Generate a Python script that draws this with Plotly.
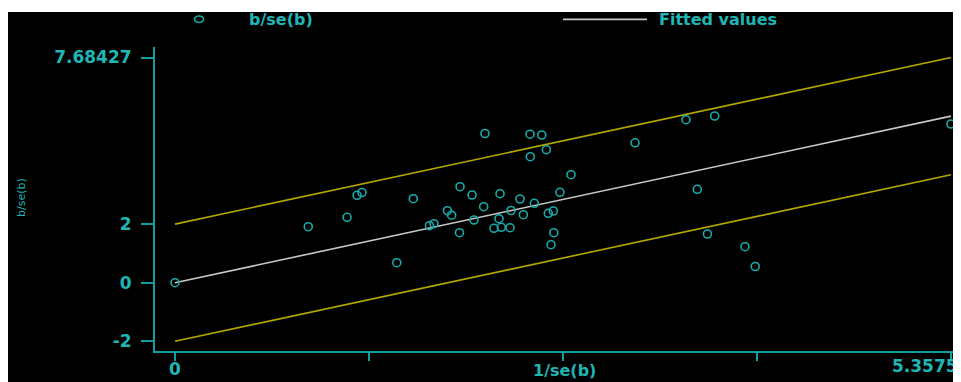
import plotly.graph_objects as go

# ---- data ----
inv_se = [0.0, 0.920, 1.188, 1.257, 1.291, 1.645, 1.531, 1.757, 1.788, 1.881,
          1.910, 1.964, 1.968, 2.051, 2.064, 2.131, 2.140, 2.202, 2.237, 2.244,
          2.253, 2.313, 2.320, 2.382, 2.405, 2.451, 2.453, 2.481, 2.532, 2.564,
          2.577, 2.612, 2.615, 2.596, 2.658, 2.734, 3.176, 3.528, 3.726, 3.606,
          3.676, 3.935, 4.006, 5.3575]
b_se = [0.0, 1.911, 2.232, 2.983, 3.078, 2.867, 0.683, 1.945, 2.014, 2.457,
        2.304, 1.706, 3.276, 2.993, 2.140, 2.594, 5.092, 1.857, 2.184, 3.038,
        1.891, 1.877, 2.464, 2.857, 2.321, 5.068, 4.300, 2.710, 5.041, 4.539,
        2.369, 2.447, 1.706, 1.297, 3.085, 3.686, 4.775, 5.563, 5.689, 3.188,
        1.662, 1.229, 0.553, 5.416]

line_x = [0.0, 5.3575]
fitted_y = [0.0, 5.68427]
upper_y = [2.0, 7.68427]
lower_y = [-2.0, 3.68427]

ytick_vals = [-2, 0, 2, 7.68427]
ytick_text = ["-2", "0", "2", "7.68427"]
xtick_vals = [0, 1.339375, 2.67875, 4.018125, 5.3575]
xtick_text = ["0", "", "", "", ""]
x_end_label = "5.3575"

legend_labels = ["b/se(b)", "Fitted values"]
x_title = "1/se(b)"
y_title = "b/se(b)"

# ---- styling ----
OFF = 8                      # page body margin
W, H = 961 - OFF, 382 - OFF
ML, MR, MT, MB = 147, 0, 39, 31
TEAL_TXT = "#1fb6b6"
TEAL_AX = "#139e9e"
TEAL_MK = "#17abab"
YELLOW = "#b3a800"
WHITE_L = "#c8c8c8"
FONT = "DejaVu Sans"

PW = W - ML - MR
PH = H - MT - MB


def fx(p):  # page pixel x -> paper
    return (p - OFF - ML) / PW


def fy(p):  # page pixel y -> paper
    return (H - MB - (p - OFF)) / PH


fig = go.Figure()

fig.add_trace(go.Scatter(x=line_x, y=upper_y, mode="lines",
                         line=dict(color=YELLOW, width=1.6), showlegend=False,
                         hoverinfo="skip"))
fig.add_trace(go.Scatter(x=line_x, y=lower_y, mode="lines",
                         line=dict(color=YELLOW, width=1.6), showlegend=False,
                         hoverinfo="skip"))
fig.add_trace(go.Scatter(x=line_x, y=fitted_y, mode="lines", name=legend_labels[1],
                         line=dict(color=WHITE_L, width=1.6), showlegend=False))
fig.add_trace(go.Scatter(x=inv_se, y=b_se, mode="markers", name=legend_labels[0],
                         marker=dict(symbol="circle-open", size=8, color=TEAL_MK,
                                     line=dict(width=1.6, color=TEAL_MK)),
                         showlegend=False))

shapes = [
    # black chart background
    dict(type="rect", xref="paper", yref="paper", layer="below",
         x0=fx(8), x1=fx(961), y0=fy(382), y1=fy(12),
         fillcolor="black", line=dict(width=0)),
    # legend symbols
    dict(type="circle", xref="paper", yref="paper",
         x0=fx(194.5), x1=fx(203.5), y0=fy(22.5), y1=fy(16),
         line=dict(color=TEAL_MK, width=1.6)),
    dict(type="line", xref="paper", yref="paper",
         x0=fx(563), x1=fx(647), y0=fy(19.3), y1=fy(19.3),
         line=dict(color=WHITE_L, width=1.8)),
]

afont = dict(family=FONT, size=16, color=TEAL_TXT, weight="bold")
tfont = dict(family=FONT, size=17, color=TEAL_TXT, weight="bold")
annotations = [
    dict(text=legend_labels[0], xref="paper", yref="paper", x=fx(247), y=fy(19),
         xanchor="left", yanchor="middle", showarrow=False, font=afont),
    dict(text=legend_labels[1], xref="paper", yref="paper", x=fx(657), y=fy(19),
         xanchor="left", yanchor="middle", showarrow=False, font=afont),
    dict(text=x_title, xref="paper", yref="paper", x=fx(564), y=fy(382),
         xanchor="center", yanchor="bottom", showarrow=False, font=afont),
    dict(text=y_title, xref="paper", yref="paper", x=fx(21), y=fy(198),
         xanchor="center", yanchor="middle", showarrow=False, textangle=-90,
         font=dict(family=FONT, size=11, color=TEAL_TXT)),
    dict(text=x_end_label, xref="paper", yref="paper", x=fx(960), y=fy(354),
         xanchor="right", yanchor="top", showarrow=False, font=tfont),
]

fig.update_layout(
    width=W, height=H,
    margin=dict(l=ML, r=MR, t=MT, b=MB, pad=0),
    paper_bgcolor="white",
    plot_bgcolor="black",
    shapes=shapes,
    annotations=annotations,
    showlegend=False,
    xaxis=dict(range=[-20 / 144.84, 786 / 144.84], showgrid=False,
               zeroline=False, showline=True, linecolor=TEAL_AX, linewidth=2,
               ticks="outside", ticklen=8, tickwidth=1.5, tickcolor=TEAL_AX,
               tickvals=xtick_vals, ticktext=xtick_text, ticklabelstandoff=-6,
               tickfont=tfont, fixedrange=True),
    yaxis=dict(range=[-2.331, 8.044], showgrid=False, zeroline=False,
               showline=True, linecolor=TEAL_AX, linewidth=2,
               ticks="outside", ticklen=12, tickwidth=1.5, tickcolor=TEAL_AX,
               tickvals=ytick_vals, ticktext=ytick_text, ticklabelstandoff=6,
               tickfont=tfont, fixedrange=True),
)

fig.write_html("out.html")
